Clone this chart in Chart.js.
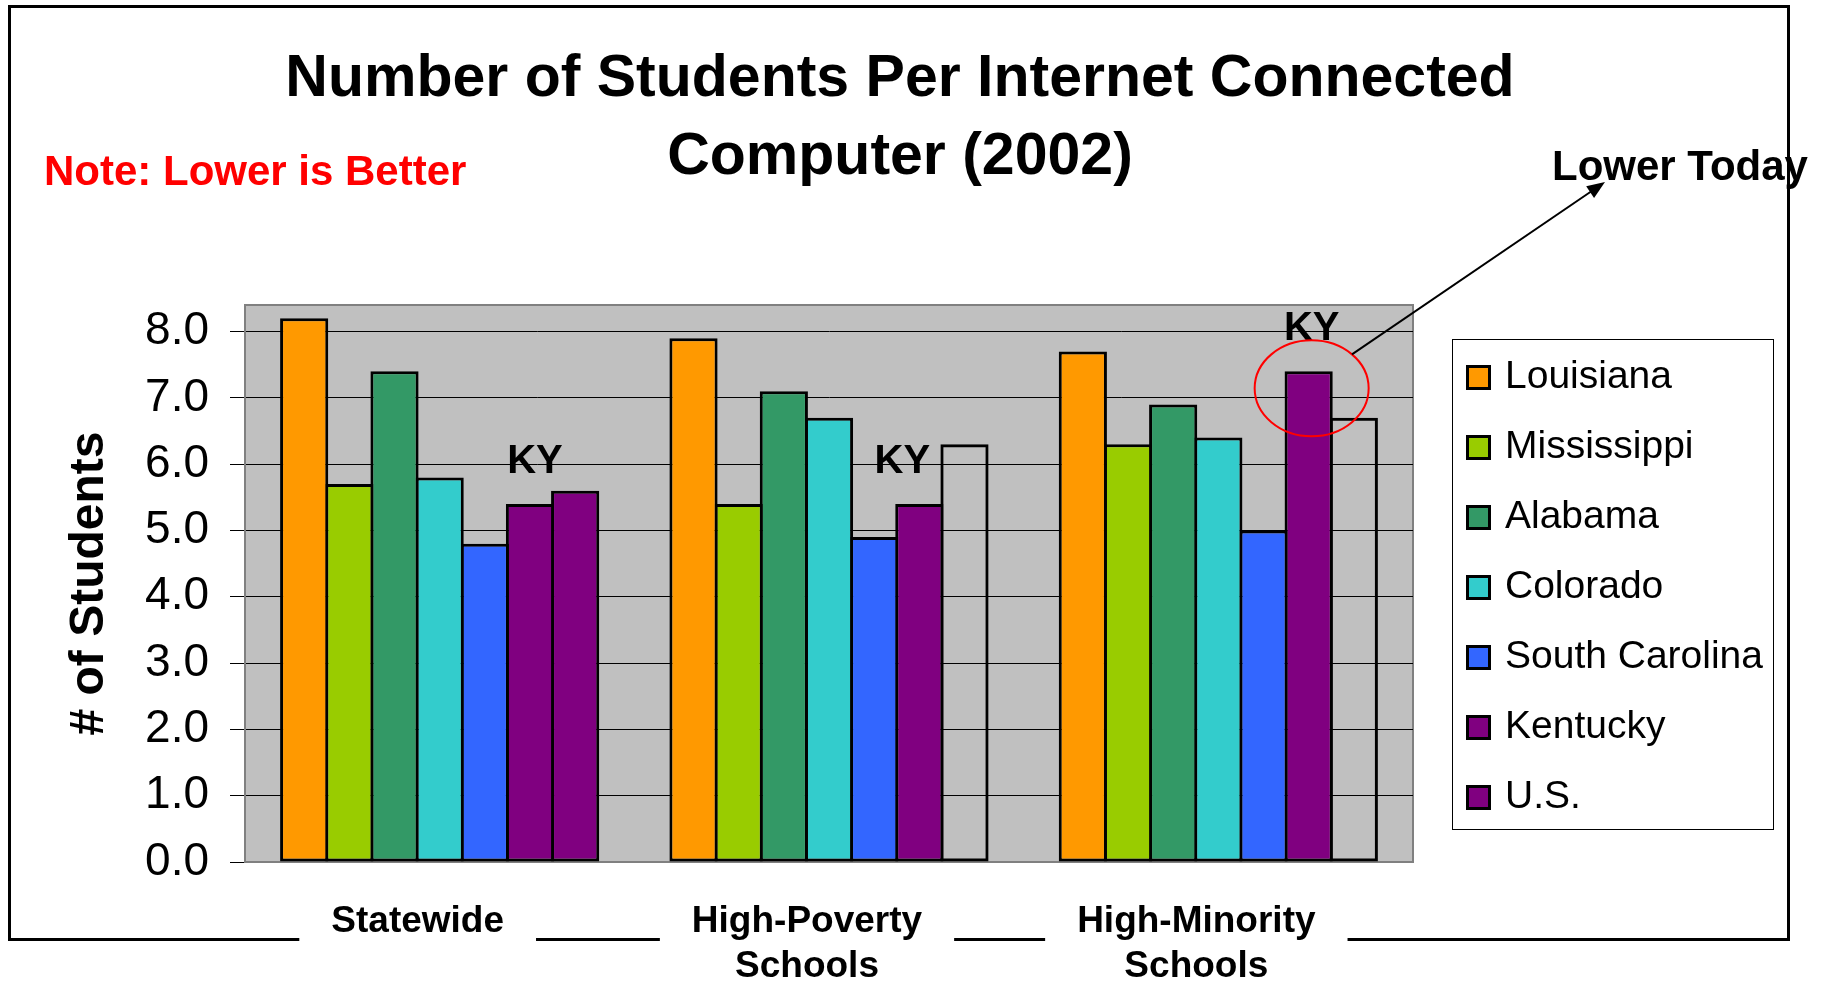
<!DOCTYPE html>
<html lang="en">
<head>
<meta charset="utf-8">
<title>Number of Students Per Internet Connected Computer (2002)</title>
<script src="https://cdn.jsdelivr.net/npm/chart.js@4.4.1/dist/chart.umd.min.js"></script>
<style>
    html, body { margin: 0; padding: 0; background: #fff; }
    #wrap { width: 1823px; height: 981px; }
</style>
</head>
<body>
<div id="wrap"><canvas id="myChart" width="1823" height="981"></canvas></div>

<script>
    var FONT = "'Liberation Sans', Arial, Helvetica, sans-serif";

    // school groups on the x axis
    var categories = ['Statewide', ['High-Poverty', 'Schools'], ['High-Minority', 'Schools']];
    var states = ['Louisiana', 'Mississippi', 'Alabama', 'Colorado', 'South Carolina', 'Kentucky', 'U.S.'];

    // students per internet connected computer
    var louisiana     = [8.2, 7.9, 7.7];
    var mississippi   = [5.7, 5.4, 6.3];
    var alabama       = [7.4, 7.1, 6.9];
    var colorado      = [5.8, 6.7, 6.4];
    var southCarolina = [4.8, 4.9, 5.0];
    var kentucky      = [5.4, 5.4, 7.4];
    var us            = [5.6, 6.3, 6.7];

    var yTicks = [0, 1, 2, 3, 4, 5, 6, 7, 8];

    var colors = ['#FF9900', '#99CC00', '#339966', '#33CCCC', '#3366FF', '#800080', '#800080'];
    // U.S. bar is only filled in the statewide group
    var usFill = ['#800080', 'rgba(0,0,0,0)', 'rgba(0,0,0,0)'];

    var series = [louisiana, mississippi, alabama, colorado, southCarolina, kentucky, us];

    var LABEL_SHIFT = -22;
    var LABEL_FONT = 'bold 37px ' + FONT;

    Chart.defaults.font.family = FONT;
    Chart.defaults.color = '#000';

    // frame, plot background, KY labels, callout and legend box
    var decor = {
        id: 'decor',
        beforeDraw: function (chart) {
            var ctx = chart.ctx, a = chart.chartArea, xs = chart.scales.x;
            ctx.save();
            ctx.fillStyle = '#fff';
            ctx.fillRect(0, 0, chart.width, chart.height);

            ctx.font = 'bold 42px ' + FONT;
            ctx.textBaseline = 'middle';
            ctx.textAlign = 'left';
            ctx.fillStyle = '#000';
            ctx.fillText('Lower Today', 1552, 168);
            ctx.fillStyle = '#FF0000';
            ctx.fillText('Note: Lower is Better', 44, 173);

            ctx.strokeStyle = '#000';
            ctx.lineWidth = 3;
            ctx.strokeRect(9.5, 6.5, 1779, 933);

            // break the bottom of the frame where the group names sit
            ctx.font = LABEL_FONT;
            ctx.fillStyle = '#fff';
            categories.forEach(function (lab, i) {
                var lines = Array.isArray(lab) ? lab : [lab];
                var w = Math.max.apply(null, lines.map(function (s) { return ctx.measureText(s).width; }));
                var cx = xs.getPixelForTick(i) + LABEL_SHIFT;
                ctx.fillRect(cx - w / 2 - 32, 930, w + 64, 16);
            });

            ctx.fillStyle = '#C0C0C0';
            ctx.fillRect(a.left, a.top, a.right - a.left, a.bottom - a.top);
            ctx.strokeStyle = '#808080';
            ctx.lineWidth = 2;
            ctx.strokeRect(a.left, a.top, a.right - a.left, a.bottom - a.top);
            ctx.restore();
        },
        afterDatasetsDraw: function (chart) {
            var ctx = chart.ctx;
            var ky = chart.getDatasetMeta(5).data;
            var kyShift = [5, -17, 3];
            ctx.save();
            ctx.font = 'bold 40px ' + FONT;
            ctx.textAlign = 'center';
            ctx.textBaseline = 'middle';
            ctx.fillStyle = '#000';
            ky.forEach(function (bar, i) {
                ctx.fillText('KY', bar.x + kyShift[i], bar.y - 42);
            });

            // circle round the high-minority KY bar
            var hm = ky[2];
            var cx = hm.x + 3, cy = hm.y + 17, rx = 57, ry = 48;
            ctx.strokeStyle = '#FF0000';
            ctx.lineWidth = 2;
            ctx.beginPath();
            ctx.ellipse(cx, cy, rx, ry, 0, 0, Math.PI * 2);
            ctx.stroke();

            // arrow up to "Lower Today"
            var sx = cx + rx * Math.SQRT1_2, sy = cy - ry * Math.SQRT1_2;
            var tx = 1605, ty = 182;
            var ang = Math.atan2(ty - sy, tx - sx);
            ctx.strokeStyle = '#000';
            ctx.lineWidth = 2;
            ctx.beginPath();
            ctx.moveTo(sx, sy);
            ctx.lineTo(tx - 12 * Math.cos(ang), ty - 12 * Math.sin(ang));
            ctx.stroke();
            ctx.fillStyle = '#000';
            ctx.beginPath();
            ctx.moveTo(tx, ty);
            ctx.lineTo(tx - 18 * Math.cos(ang) + 7 * Math.sin(ang), ty - 18 * Math.sin(ang) - 7 * Math.cos(ang));
            ctx.lineTo(tx - 18 * Math.cos(ang) - 7 * Math.sin(ang), ty - 18 * Math.sin(ang) + 7 * Math.cos(ang));
            ctx.closePath();
            ctx.fill();
            ctx.restore();
        },
        afterDraw: function (chart) {
            var ctx = chart.ctx;
            ctx.save();
            ctx.strokeStyle = '#000';
            ctx.lineWidth = 1;
            ctx.strokeRect(1452.5, 339.5, 321, 490);
            ctx.font = '39px ' + FONT;
            ctx.textAlign = 'left';
            ctx.textBaseline = 'middle';
            states.forEach(function (name, i) {
                var y = 377 + 70 * i;
                ctx.fillStyle = colors[i];
                ctx.fillRect(1466, y - 12, 25, 25);
                ctx.strokeStyle = '#000';
                ctx.lineWidth = 3;
                ctx.strokeRect(1467.5, y - 10.5, 22, 22);
                ctx.fillStyle = '#000';
                ctx.fillText(name, 1505, y);
            });
            ctx.restore();
        }
    };

    var ctx = document.getElementById('myChart');
    var myBarChart = new Chart(ctx, {
        type: 'bar',
        data: {
            labels: categories,
            datasets: states.map(function (name, i) {
                return {
                    label: name,
                    data: series[i],
                    backgroundColor: i === 6 ? usFill : colors[i],
                    borderColor: '#000',
                    borderWidth: 3,
                    borderSkipped: false,
                    barPercentage: 1.067,
                    categoryPercentage: 0.812
                };
            })
        },
        options: {
            responsive: false,
            animation: false,
            layout: { padding: { left: 0, right: 23, top: 0, bottom: 0 } },
            plugins: {
                legend: { display: false },
                tooltip: { enabled: false },
                title: {
                    display: true,
                    text: ['Number of Students Per Internet Connected', 'Computer (2002)'],
                    color: '#000',
                    font: { size: 59, weight: 'bold', lineHeight: 1.322 },
                    padding: { top: 41, bottom: 108 }
                }
            },
            scales: {
                x: {
                    offset: true,
                    afterFit: function (s) { s.height = 119; },
                    grid: { display: false, drawTicks: false },
                    border: { display: false },
                    ticks: {
                        padding: 38,
                        labelOffset: LABEL_SHIFT,
                        maxRotation: 0,
                        autoSkip: false,
                        color: '#000',
                        font: { size: 37, weight: 'bold' }
                    }
                },
                y: {
                    min: 0,
                    max: 8.4,
                    afterBuildTicks: function (s) {
                        s.ticks = yTicks.map(function (v) { return { value: v }; });
                    },
                    afterFit: function (s) { s.width = 245; },
                    grid: {
                        color: function (c) { return c.tick && c.tick.value === 0 ? '#808080' : '#000'; },
                        lineWidth: 1,
                        tickLength: 15,
                        tickColor: '#000'
                    },
                    border: { display: true, color: '#808080', width: 2 },
                    ticks: {
                        padding: 21,
                        color: '#000',
                        font: { size: 46 },
                        callback: function (v) { return Number(v).toFixed(1); }
                    },
                    title: {
                        display: true,
                        text: '# of Students',
                        color: '#000',
                        font: { size: 48, weight: 'bold' },
                        padding: { top: 61, bottom: 0 }
                    }
                },
                // empty band on the right that holds the legend box
                pad: {
                    position: 'right',
                    afterFit: function (s) { s.width = 387; },
                    grid: { display: false, drawTicks: false },
                    border: { display: false },
                    ticks: { display: false }
                }
            }
        },
        plugins: [decor]
    });
</script>
</body>
</html>
